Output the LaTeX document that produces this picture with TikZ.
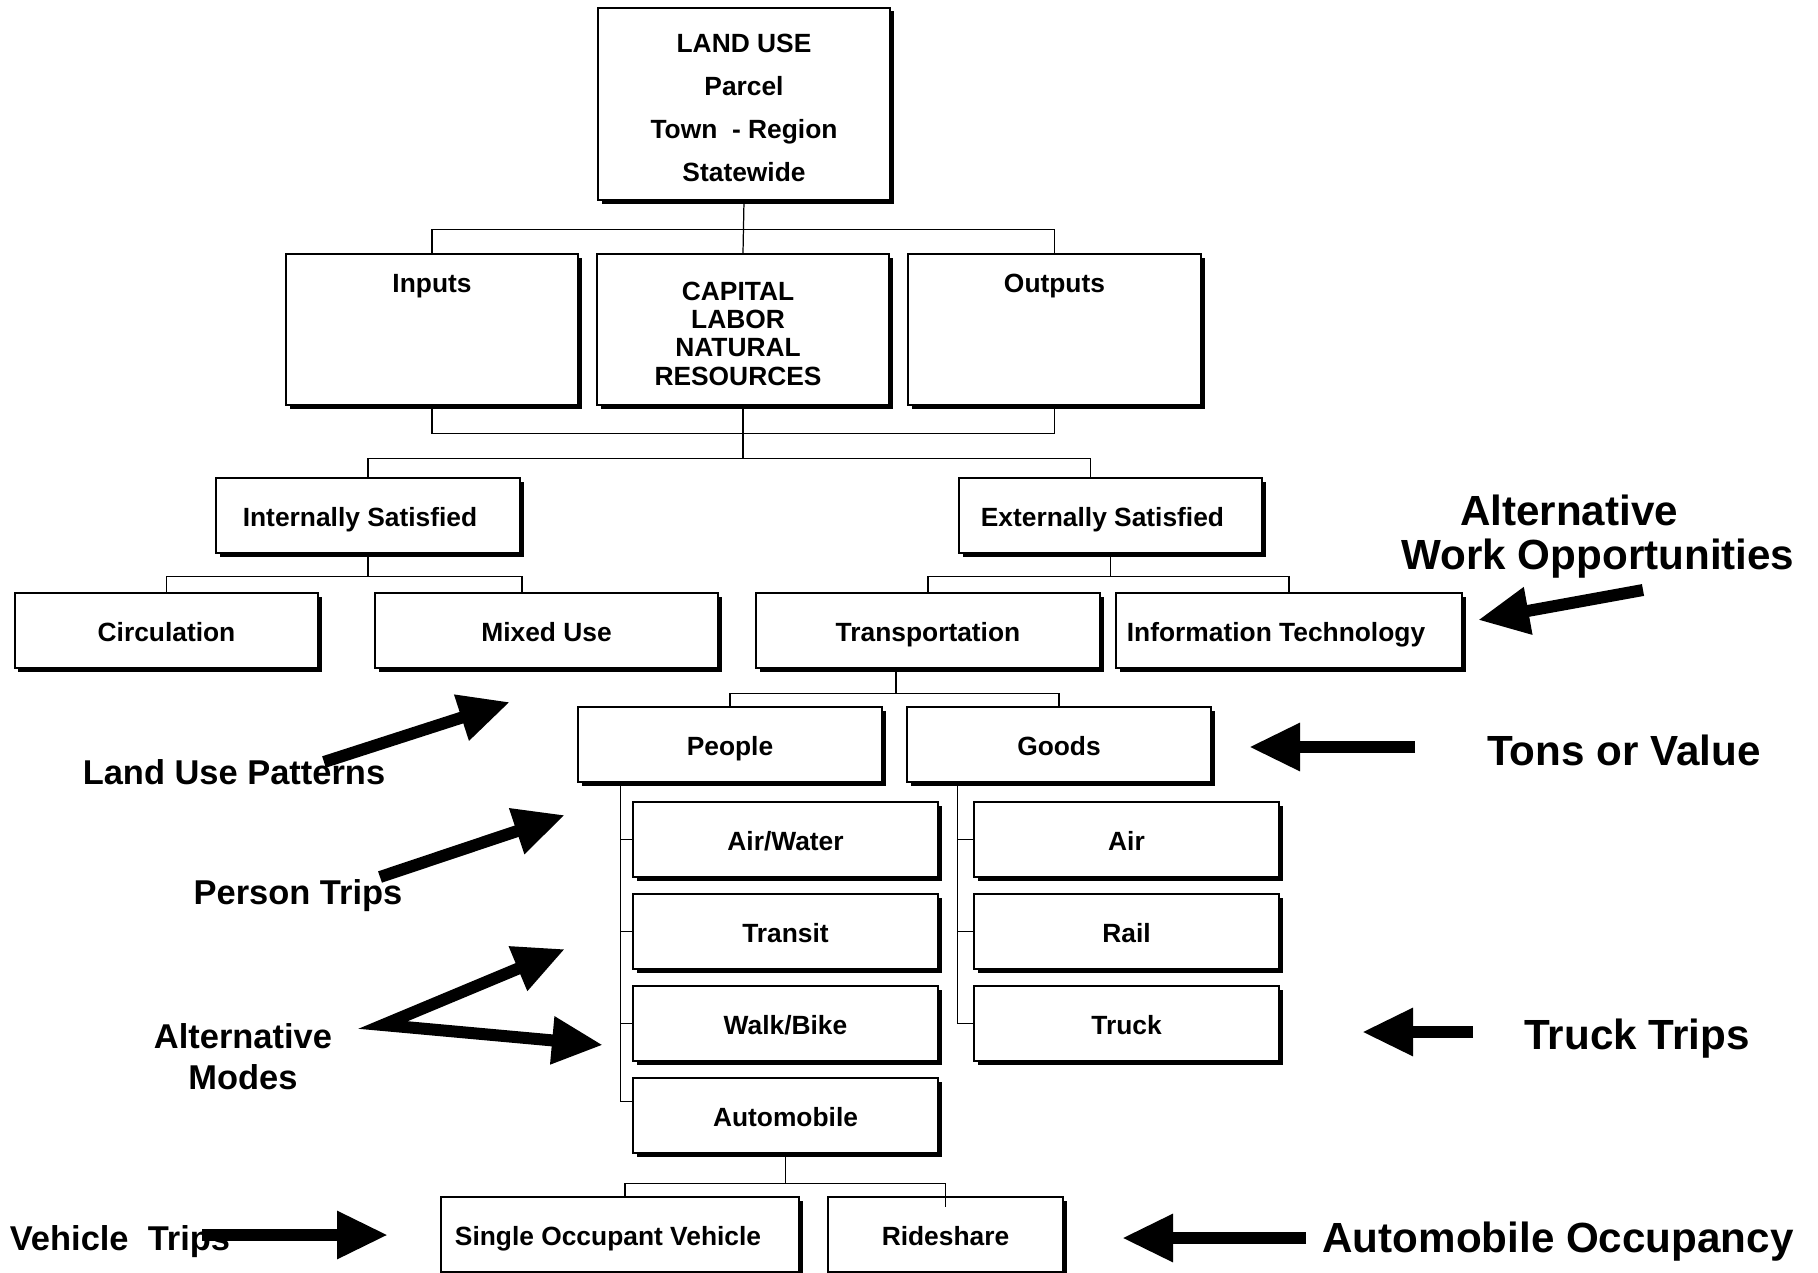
\documentclass[tikz,border=0pt]{standalone}
\usepackage{fontspec}
\setmainfont{Liberation Sans}
\usetikzlibrary{arrows.meta,shadows}

\begin{document}
\begin{tikzpicture}
    [% Styles
    box/.style={draw, line width=0.45pt, fill=white, inner sep=0pt,
      minimum height=7.5mm, align=center,
      font=\fontsize{7.5}{8.1}\selectfont\bfseries,
      general shadow={fill=black, shadow xshift=0.35mm, shadow yshift=-0.35mm}},
    line box/.style={box, text height=2.2mm, text depth=0pt},
    top text/.style={label={[anchor=center, yshift=-3.25mm, inner sep=0pt,
      font=\fontsize{7.5}{8.1}\selectfont\bfseries]north:#1}},
    link/.style={line width=0.35pt},
    note/.style={inner sep=0pt, align=center, font=\fontsize{9.8}{11.7}\selectfont\bfseries},
    big note/.style={inner sep=0pt, align=center, font=\fontsize{12}{12.5}\selectfont\bfseries},
    head/.tip={Triangle[length=5.1mm,width=4.5mm]},
    fat arrow/.style={-head, line width=1.2mm, line join=miter}]

    \useasboundingbox (0,0) rectangle (18.18,-12.73);

    % Land use
    \node[box, minimum width=29.2mm, minimum height=19.2mm,
      font=\fontsize{7.5}{12.2}\selectfont\bfseries] (landuse) at (7.44,-1.04)
      {\rule{0pt}{7.6pt}LAND USE\\Parcel\\Town\ \ - Region\\Statewide};

    % Inputs and outputs
    \node[box, minimum width=29.2mm, minimum height=15.1mm, top text=Inputs] (inputs) at (4.32,-3.295) {};
    \node[box, minimum width=29.2mm, minimum height=15.1mm] (capital) at (7.43,-3.295)
      {\rule{0pt}{7.6pt}CAPITAL\rule{1mm}{0pt}\\LABOR\rule{1mm}{0pt}\\NATURAL\rule{1mm}{0pt}\\RESOURCES\rule{1mm}{0pt}};
    \node[box, minimum width=29.3mm, minimum height=15.1mm, top text=Outputs] (outputs) at (10.545,-3.295) {};

    % Satisfied
    \node[line box, minimum width=30.4mm] (internal) at (3.68,-5.155) {Internally Satisfied\rule{1.6mm}{0pt}};
    \node[line box, minimum width=30.3mm] (external) at (11.105,-5.155) {Externally Satisfied\rule{1.6mm}{0pt}};

    \node[line box, minimum width=30.3mm] (circulation) at (1.665,-6.305) {Circulation};
    \node[line box, minimum width=34.3mm] (mixed) at (5.465,-6.305) {Mixed Use};
    \node[line box, minimum width=34.4mm] (transport) at (9.28,-6.305) {Transportation};
    \node[line box, minimum width=34.6mm] (infotech) at (12.89,-6.305) {Information Technology\rule{2.6mm}{0pt}};

    % People and goods
    \node[line box, minimum width=30.4mm] (people) at (7.30,-7.445) {People};
    \node[line box, minimum width=30.4mm] (goods) at (10.59,-7.445) {Goods};

    \foreach \nm/\txt/\y in {airwater/{Air/Water}/-8.395, transit/Transit/-9.315,
      walkbike/{Walk/Bike}/-10.235, automobile/Automobile/-11.155}
    \node[line box, minimum width=30.5mm] (\nm) at (7.855,\y) {\txt};
    \foreach \nm/\txt/\y in {air/Air/-8.395, rail/Rail/-9.315, truck/Truck/-10.235}
    \node[line box, minimum width=30.5mm] (\nm) at (11.265,\y) {\txt};

    \node[line box, minimum width=35.8mm] (sov) at (6.20,-12.345) {Single Occupant Vehicle\rule{2.4mm}{0pt}};
    \node[line box, minimum width=23.5mm] (rideshare) at (9.455,-12.345) {Rideshare};

    % Connectors
    \draw[link] (landuse.south) -- (capital.north);
    \draw[link] (inputs.north) -- ++(0,0.24) -| (outputs.north);
    \draw[link] (inputs.south) -- ++(0,-0.28) -| (outputs.south);
    \draw[link] (capital.south) -- ++(0,-0.53) coordinate (split);
    \draw[link] (internal.north) |- (split) -| ([xshift=-2mm]external.north);
    \draw[link] (internal.south) -- ++(0,-0.23) coordinate (isplit);
    \draw[link] (circulation.north) |- (isplit) -| ([xshift=-2.45mm]mixed.north);
    \draw[link] (external.south) -- ++(0,-0.23) coordinate (esplit);
    \draw[link] (transport.north) |- (esplit) -| (infotech.north);
    \draw[link] ([xshift=-3.2mm]transport.south) -- ++(0,-0.25) coordinate (tsplit);
    \draw[link] (people.north) |- (tsplit) -| (goods.north);

    \draw[link] ([xshift=4.3mm]people.south west) |- ([yshift=1.4mm]automobile.west);
    \foreach \nm in {airwater,transit,walkbike}
    \draw[link] (\nm.west) -- ++(-0.12,0);
    \draw[link] ([xshift=5.1mm]goods.south west) |- (truck.west);
    \foreach \nm in {air,rail}
    \draw[link] (\nm.west) -- ++(-0.16,0);

    \draw[link] (automobile.south) -- ++(0,-0.30) coordinate (asplit);
    \draw[link] ([xshift=0.5mm]sov.north) |- (asplit) -| ([yshift=-1.1mm]rideshare.north);

    % Notes
    \node[note] (landusepat) at (2.34,-7.72) {Land Use Patterns};
    \node[note] (persontrips) at (2.98,-8.96) {Person Trips};
    \node[note] (altmodes) at (2.43,-10.57) {Alternative\\Modes};
    \node[note] (vehicletrips) at (1.20,-12.42) {Vehicle\ \ Trips};
    \node[big note] (altwork) at (15.98,-5.37) {Alternative\rule{5.8mm}{0pt}\\Work Opportunities};
    \node[big note] (tonsvalue) at (16.24,-7.50) {Tons or Value};
    \node[big note] (trucktrips) at (16.37,-10.39) {Truck Trips};
    \node[big note] (autoocc) at (15.58,-12.42) {Automobile Occupancy};

    % Arrows
    \coordinate (lup-tail) at (3.24,-7.62);
    \coordinate (lup-tip) at (5.10,-7.02);
    \coordinate (pt-tail) at (3.80,-8.77);
    \coordinate (pt-tip) at (5.65,-8.15);
    \coordinate (am-tail) at (3.83,-10.25);
    \coordinate (am-tip1) at (5.65,-9.49);
    \coordinate (am-tip2) at (6.03,-10.45);
    \coordinate (vt-tail) at (2.02,-12.35);
    \coordinate (vt-tip) at (3.88,-12.35);
    \coordinate (aw-tail) at (16.43,-5.90);
    \coordinate (aw-tip) at (14.78,-6.20);
    \coordinate (tv-tail) at (14.15,-7.47);
    \coordinate (tv-tip) at (12.49,-7.47);
    \coordinate (tt-tail) at (14.73,-10.32);
    \coordinate (tt-tip) at (13.62,-10.32);
    \coordinate (ao-tail) at (13.06,-12.38);
    \coordinate (ao-tip) at (11.22,-12.38);

    \draw[fat arrow] (lup-tail) -- (lup-tip);
    \draw[fat arrow] (pt-tail) -- (pt-tip);
    \draw[fat arrow, head-head] (am-tip1) -- (am-tail) -- (am-tip2);
    \draw[fat arrow] (vt-tail) -- (vt-tip);
    \draw[fat arrow] (aw-tail) -- (aw-tip);
    \draw[fat arrow] (tv-tail) -- (tv-tip);
    \draw[fat arrow] (tt-tail) -- (tt-tip);
    \draw[fat arrow] (ao-tail) -- (ao-tip);
\end{tikzpicture}
\end{document}
